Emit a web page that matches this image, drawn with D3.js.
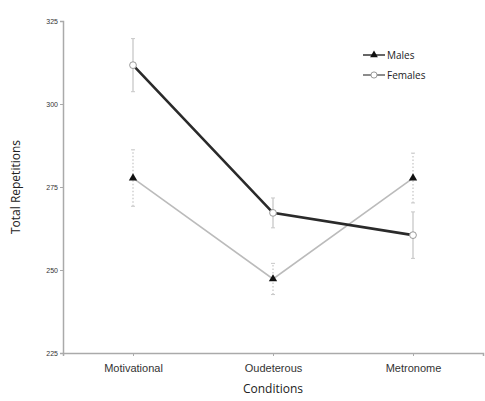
<!DOCTYPE html>
<html lang="en">
<head>
  <meta charset="UTF-8" />
  <title>Total Repetitions by Condition</title>
  <script src="https://d3js.org/d3.v7.min.js"></script>
  <style>
    body { margin: 0; background: #fff; }
    svg { display: block; font-family: "Open Sans", Arial, sans-serif; }
    .tick text { fill: #333; }
    .axis-label { font-size: 12px; fill: #222; }
  </style>
</head>
<body>
  <svg id="chart"></svg>
  <script>
    const conditions = ["Motivational", "Oudeterous", "Metronome"];
    const yTicks = [225, 250, 275, 300, 325];

    const femalesMean = [311.7, 267.2, 260.5];
    const femalesErr  = [8, 4.5, 7];
    const malesMean   = [277.7, 247.3, 277.7];
    const malesErr    = [8.5, 4.7, 7.5];

    const W = 485, H = 401;
    const margin = { top: 21, right: 2, bottom: 48, left: 63 };
    const width  = W - margin.left - margin.right;
    const height = H - margin.top - margin.bottom;

    const svg = d3.select("#chart")
      .attr("width", W)
      .attr("height", H)
      .append("g")
        .attr("transform", `translate(${margin.left},${margin.top})`);

    const x = d3.scalePoint()
      .domain(conditions)
      .range([0, width])
      .padding(0.5);

    const y = d3.scaleLinear()
      .domain([225, 325])
      .range([height, 0]);

    // axes
    const xAxis = svg.append("g")
      .attr("transform", `translate(0,${height})`)
      .call(d3.axisBottom(x).tickSize(3).tickPadding(8));
    xAxis.select(".domain").attr("stroke", "#aaa").attr("stroke-width", 1.5);
    xAxis.selectAll(".tick line").attr("stroke", "#aaa");
    xAxis.selectAll(".tick text").attr("font-size", 11);

    const yAxis = svg.append("g")
      .call(d3.axisLeft(y).tickValues(yTicks).tickSize(3).tickPadding(2));
    yAxis.select(".domain").attr("stroke", "#aaa").attr("stroke-width", 1.5);
    yAxis.selectAll(".tick line").attr("stroke", "#aaa");
    yAxis.selectAll(".tick text").attr("font-size", 7);

    svg.append("text")
      .attr("class", "axis-label")
      .attr("x", width / 2)
      .attr("y", height + 40)
      .attr("text-anchor", "middle")
      .text("Conditions");

    svg.append("text")
      .attr("class", "axis-label")
      .attr("transform", "rotate(-90)")
      .attr("x", -height / 2)
      .attr("y", -43)
      .attr("text-anchor", "middle")
      .attr("font-size", 11)
      .text("Total Repetitions");

    const series = [
      { name: "Males",   mean: malesMean,   err: malesErr,   color: "#bbb", width: 1.6, marker: "triangle", dash: "1.5,2" },
      { name: "Females", mean: femalesMean, err: femalesErr, color: "#2a2a2a", width: 2.6, marker: "circle", dash: null }
    ];

    const line = d3.line()
      .x((d, i) => x(conditions[i]))
      .y(d => y(d));

    // error bars
    series.forEach(s => {
      const eb = svg.append("g");
      conditions.forEach((c, i) => {
        const cx = x(c);
        eb.append("line")
          .attr("x1", cx).attr("x2", cx)
          .attr("y1", y(s.mean[i] - s.err[i]))
          .attr("y2", y(s.mean[i] + s.err[i]))
          .attr("stroke", "#c8c8c8")
          .attr("stroke-width", 1.3)
          .attr("stroke-dasharray", s.dash);
        [s.mean[i] - s.err[i], s.mean[i] + s.err[i]].forEach(v => {
          eb.append("line")
            .attr("x1", cx - 2).attr("x2", cx + 2)
            .attr("y1", y(v)).attr("y2", y(v))
            .attr("stroke", "#c8c8c8");
        });
      });
    });

    series.forEach(s => {
      svg.append("path")
        .datum(s.mean)
        .attr("fill", "none")
        .attr("stroke", s.color)
        .attr("stroke-width", s.width)
        .attr("d", line);
    });

    series.forEach(s => {
      const sym = s.marker === "triangle"
        ? d3.symbol().type(d3.symbolTriangle).size(30)
        : d3.symbol().type(d3.symbolCircle).size(36);
      svg.selectAll(null)
        .data(s.mean)
        .join("path")
          .attr("transform", (d, i) => `translate(${x(conditions[i])},${y(d)})`)
          .attr("d", sym)
          .attr("fill", s.marker === "triangle" ? "#111" : "#fff")
          .attr("stroke", s.marker === "triangle" ? "none" : "#999")
          .attr("stroke-width", 1);
    });

    // legend
    const legend = svg.append("g")
      .attr("transform", `translate(${363 - margin.left},${55 - margin.top})`);

    series.forEach((s, i) => {
      const g = legend.append("g").attr("transform", `translate(0,${20 * i})`);
      g.append("line")
        .attr("x1", 0).attr("x2", 22)
        .attr("stroke", i === 0 ? "#333" : "#666")
        .attr("stroke-width", 1.5);
      const sym = s.marker === "triangle"
        ? d3.symbol().type(d3.symbolTriangle).size(26)
        : d3.symbol().type(d3.symbolCircle).size(30);
      g.append("path")
        .attr("transform", "translate(11,0)")
        .attr("d", sym)
        .attr("fill", s.marker === "triangle" ? "#111" : "#fff")
        .attr("stroke", s.marker === "triangle" ? "none" : "#999");
      g.append("text")
        .attr("x", 24)
        .attr("y", 3.5)
        .attr("font-size", 10)
        .attr("fill", "#222")
        .text(s.name);
    });
  </script>
</body>
</html>
